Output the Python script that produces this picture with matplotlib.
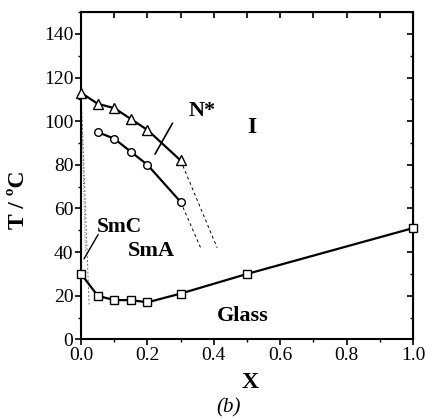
import matplotlib
matplotlib.use('Agg')
import matplotlib.pyplot as plt
from matplotlib.ticker import MultipleLocator

plt.rcParams['font.family'] = ['Liberation Serif', 'DejaVu Serif']

# N*-I 転移 (三角)
x_ni = [0.0, 0.05, 0.1, 0.15, 0.2, 0.3]
t_ni = [113, 108, 106, 101, 96, 82]
# SmA-N* 転移 (丸)
x_an = [0.05, 0.1, 0.15, 0.2, 0.3]
t_an = [95, 92, 86, 80, 63]
# ガラス転移 (四角)
x_g = [0.0, 0.05, 0.1, 0.15, 0.2, 0.3, 0.5, 1.0]
t_g = [30, 20, 18, 18, 17, 21, 30, 51]
# 推定境界 (破線)
x_ext_ni = [0.3, 0.41]
t_ext_ni = [82, 42]
x_ext_an = [0.3, 0.363]
t_ext_an = [63, 41]
x_ext_c1 = [0.0, 0.024]
t_ext_c1 = [113, 16]
x_ext_c2 = [0.0, 0.013]
t_ext_c2 = [113, 40]

fig = plt.figure(figsize=(4.27, 4.19), dpi=100)
ax = fig.add_axes([0.19, 0.19, 0.777, 0.781])

ax.plot(x_ni, t_ni, '-', color='black', lw=1.6, marker='^', ms=6.5,
        mfc='white', mec='black', mew=1.0, clip_on=False, zorder=3)
ax.plot(x_an, t_an, '-', color='black', lw=1.6, marker='o', ms=5.5,
        mfc='white', mec='black', mew=1.0, zorder=3)
ax.plot(x_g, t_g, '-', color='black', lw=1.6, marker='s', ms=6,
        mfc='white', mec='black', mew=1.0, clip_on=False, zorder=3)

ax.plot(x_ext_ni, t_ext_ni, '--', color='black', lw=0.7, dashes=(3, 3))
ax.plot(x_ext_an, t_ext_an, '--', color='black', lw=0.7, dashes=(3, 3))
ax.plot(x_ext_c1, t_ext_c1, '--', color='dimgray', lw=0.7, dashes=(2, 2))
ax.plot(x_ext_c2, t_ext_c2, ':', color='dimgray', lw=0.7)

# ラベル
ax.text(0.325, 100, 'N*', fontsize=16, fontweight='bold', ha='left', va='bottom')
ax.plot([0.275, 0.223], [99, 85], color='black', lw=1.2)
ax.text(0.515, 97, 'I', fontsize=17, fontweight='bold', ha='center', va='center')
ax.text(0.048, 47, 'SmC', fontsize=15.5, fontweight='bold', ha='left', va='bottom')
ax.plot([0.051, 0.009], [48, 37], color='black', lw=1.0)
ax.text(0.142, 40.5, 'SmA', fontsize=16, fontweight='bold', ha='left', va='center')
ax.text(0.41, 10.5, 'Glass', fontsize=16, fontweight='bold', ha='left', va='center')

ax.set_xlim(0, 1.0)
ax.set_ylim(0, 150)
ax.xaxis.set_minor_locator(MultipleLocator(0.1))
ax.yaxis.set_minor_locator(MultipleLocator(10))
ax.set_xticks([0, 0.2, 0.4, 0.6, 0.8, 1.0])
ax.set_xticklabels(['0.0', '0.2', '0.4', '0.6', '0.8', '1.0'])
ax.set_yticks([0, 20, 40, 60, 80, 100, 120, 140])
ax.tick_params(which='major', direction='out', length=4, width=1.2, labelsize=14, pad=1.5)
ax.tick_params(which='minor', direction='out', length=2.5, width=1.0)
for s in ax.spines.values():
    s.set_linewidth(1.5)

# 上と右の目盛りは内向き
top = ax.secondary_xaxis('top')
top.xaxis.set_major_locator(MultipleLocator(0.1))
top.tick_params(direction='in', length=4, width=1.2, labeltop=False)
right = ax.secondary_yaxis('right')
right.yaxis.set_major_locator(MultipleLocator(20))
right.yaxis.set_minor_locator(MultipleLocator(10))
right.tick_params(which='major', direction='in', length=4, width=1.2, labelright=False)
right.tick_params(which='minor', direction='in', length=2.5, width=1.0)

ax.set_xlabel('X', fontsize=17, fontweight='bold', va='top')
ax.xaxis.set_label_coords(0.509, -0.1)
ax.set_ylabel('T / ºC', fontsize=17, fontweight='bold', va='center')
ax.yaxis.set_label_coords(-0.19, 0.428)
fig.text(0.535, 0.003, '(b)', fontsize=15, style='italic', ha='center', va='bottom')

plt.savefig('out.png', dpi=100)
